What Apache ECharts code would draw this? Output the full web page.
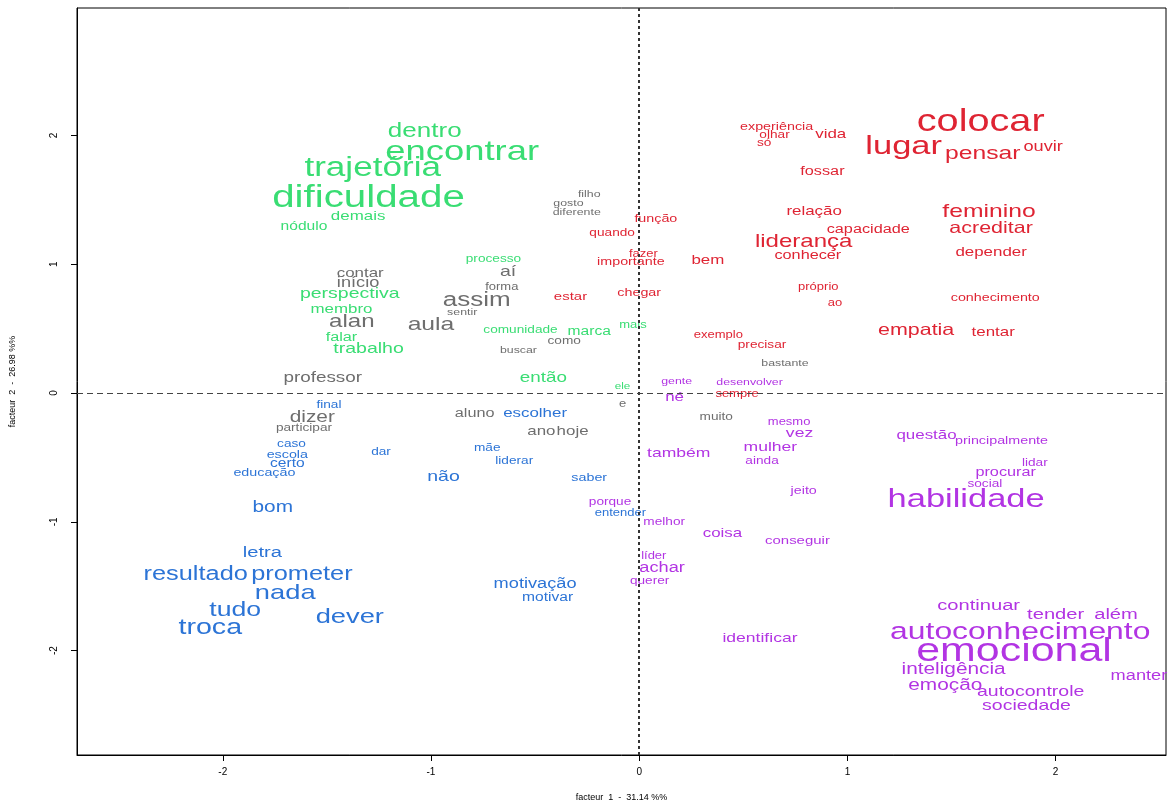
<!DOCTYPE html>
<html>
<head>
<meta charset="utf-8">
<script src="https://cdn.jsdelivr.net/npm/echarts@6/dist/echarts.min.js"></script>
<style>
  html, body { margin: 0; padding: 0; background: #fff; }
  #chart { width: 1168px; height: 807px; }
</style>
</head>
<body>
<div id="chart"></div>
<script>
// classe verde
var greenWords = ['dentro','encontrar','trajetória','dificuldade','demais','nódulo','processo','perspectiva','membro','falar','trabalho','comunidade','marca','mais','então','ele'];
var greenX = [-1.03,-0.85,-1.28,-1.30,-1.35,-1.61,-0.70,-1.39,-1.43,-1.43,-1.30,-0.57,-0.24,-0.03,-0.46,-0.08];
var greenY = [2.03,1.87,1.74,1.51,1.37,1.29,1.04,0.77,0.65,0.43,0.34,0.49,0.48,0.53,0.12,0.05];
var greenChi2 = [28,44,42,50,14,12,9,18,14,13,18,9,12,8,17,6];

// classe cinza
var grayWords = ['filho','gosto','diferente','contar','início','aí','forma','assim','sentir','alan','aula','como','buscar','professor','aluno','dizer','participar','ano','hoje','e','muito','bastante'];
var grayX = [-0.24,-0.34,-0.30,-1.34,-1.35,-0.63,-0.66,-0.78,-0.85,-1.38,-1.00,-0.36,-0.58,-1.52,-0.79,-1.57,-1.61,-0.47,-0.32,-0.08,0.37,0.70];
var grayY = [1.54,1.47,1.40,0.93,0.85,0.94,0.82,0.72,0.63,0.55,0.53,0.40,0.33,0.12,-0.16,-0.19,-0.27,-0.30,-0.30,-0.09,-0.19,0.23];
var grayChi2 = [7,7,7,14,16,18,8,28,7,25,26,9,7,17,13,20,9,14,14,8,9,7];

// classe vermelha
var redWords = ['experiência','olhar','só','vida','colocar','lugar','pensar','ouvir','fossar','relação','feminino','função','capacidade','acreditar','quando','liderança','conhecer','depender','fazer','importante','bem','próprio','ao','conhecimento','estar','chegar','empatia','tentar','exemplo','precisar','sempre'];
var redX = [0.66,0.65,0.60,0.92,1.64,1.27,1.65,1.94,0.88,0.84,1.68,0.08,1.10,1.69,-0.13,0.79,0.81,1.69,0.02,-0.04,0.33,0.86,0.94,1.71,-0.33,0.00,1.33,1.70,0.38,0.59,0.47];
var redY = [2.07,2.00,1.94,2.01,2.10,1.91,1.86,1.91,1.72,1.41,1.41,1.35,1.27,1.28,1.24,1.17,1.07,1.09,1.08,1.02,1.03,0.82,0.70,0.74,0.75,0.78,0.49,0.47,0.45,0.37,-0.01];
var redChi2 = [10,9,9,14,49,41,26,16,13,14,26,10,13,21,9,25,13,14,8,10,14,8,8,10,11,10,21,14,8,9,8];

// classe roxa
var purpleWords = ['gente','desenvolver','né','mesmo','vez','mulher','ainda','também','questão','principalmente','lidar','procurar','social','jeito','habilidade','porque','melhor','coisa','conseguir','líder','achar','querer','identificar','continuar','tender','além','autoconhecimento','emocional','inteligência','manter','emoção','autocontrole','sociedade'];
var purpleX = [0.18,0.53,0.17,0.72,0.77,0.63,0.59,0.19,1.38,1.74,1.90,1.76,1.66,0.79,1.57,-0.14,0.12,0.40,0.76,0.07,0.11,0.05,0.58,1.63,2.00,2.29,1.83,1.80,1.51,2.40,1.47,1.88,1.86];
var purpleY = [0.09,0.08,-0.03,-0.23,-0.31,-0.42,-0.53,-0.47,-0.33,-0.37,-0.54,-0.62,-0.71,-0.76,-0.83,-0.85,-1.00,-1.09,-1.15,-1.27,-1.36,-1.46,-1.90,-1.65,-1.72,-1.72,-1.86,-2.01,-2.15,-2.20,-2.27,-2.32,-2.43];
var purpleChi2 = [7,7,14,8,15,15,9,15,14,10,9,13,9,10,41,9,9,14,11,8,16,9,15,19,19,19,37,54,20,16,20,18,18];

// classe azul
var blueWords = ['final','caso','escola','certo','educação','dar','não','mãe','liderar','escolher','saber','entender','bom','letra','resultado','prometer','nada','tudo','dever','troca','motivação','motivar'];
var blueX = [-1.49,-1.67,-1.69,-1.69,-1.80,-1.24,-0.94,-0.73,-0.60,-0.50,-0.24,-0.09,-1.76,-1.81,-2.13,-1.62,-1.70,-1.94,-1.39,-2.06,-0.50,-0.44];
var blueY = [-0.09,-0.40,-0.48,-0.55,-0.62,-0.46,-0.65,-0.43,-0.53,-0.16,-0.66,-0.93,-0.89,-1.24,-1.41,-1.41,-1.55,-1.69,-1.74,-1.82,-1.48,-1.59];
var blueChi2 = [9,9,10,12,10,9,18,9,9,14,10,8,20,19,27,27,30,29,30,32,16,12];

var axisTicks = [-2, -1, 0, 1, 2];

var myChart = echarts.init(document.getElementById('chart'));

function wordSeries(words, xs, ys, chi2, color) {
    return {
        type: 'custom',
        coordinateSystem: 'cartesian2d',
        encode: { x: 0, y: 1 },
        data: xs.map(function (v, i) { return [v, ys[i], chi2[i]]; }),
        renderItem: function (params, api) {
            var p = api.coord([api.value(0), api.value(1)]);
            return {
                type: 'text',
                x: p[0],
                y: p[1],
                scaleX: 1.3,
                style: {
                    text: words[params.dataIndex],
                    fontSize: 6 + api.value(2) / 2,
                    fontFamily: 'Liberation Sans, Arial, sans-serif',
                    fill: color,
                    align: 'center',
                    verticalAlign: 'middle'
                }
            };
        }
    };
}

var series = [
    wordSeries(grayWords, grayX, grayY, grayChi2, '#6e6e6e'),
    wordSeries(greenWords, greenX, greenY, greenChi2, '#39dd73'),
    wordSeries(redWords, redX, redY, redChi2, '#df2433'),
    wordSeries(purpleWords, purpleX, purpleY, purpleChi2, '#b234e3'),
    wordSeries(blueWords, blueX, blueY, blueChi2, '#2c74d6')
];

series[0].markLine = {
    silent: true,
    symbol: ['none', 'none'],
    label: { show: false },
    data: [
        { xAxis: 0, lineStyle: { type: [3, 3], width: 2, color: '#333' } },
        { yAxis: 0, lineStyle: { type: [6, 4], width: 1.2, color: '#444' } }
    ]
};

option = {
    animation: false,
    backgroundColor: '#fff',
    grid: {
        left: 75, right: 2, top: 8, bottom: 52,
        show: true, borderColor: '#000', borderWidth: 1
    },
    xAxis: {
        type: 'value',
        min: -2.7,
        max: 2.53,
        name: 'facteur  1  -  31.14 %%',
        nameLocation: 'middle',
        nameGap: 38,
        nameTextStyle: { fontSize: 9, color: '#000', fontFamily: 'Liberation Sans' },
        axisLine: { onZero: false, lineStyle: { color: '#000' } },
        axisTick: { customValues: axisTicks, length: 6, lineStyle: { color: '#000' } },
        axisLabel: { customValues: axisTicks, fontSize: 10, color: '#000', margin: 12, fontFamily: 'Liberation Sans' },
        splitLine: { show: false }
    },
    yAxis: {
        type: 'value',
        min: -2.81,
        max: 2.99,
        name: 'facteur  2  -  26.98 %%',
        nameLocation: 'middle',
        nameRotate: 90,
        nameGap: 60,
        nameTextStyle: { fontSize: 9, color: '#000', fontFamily: 'Liberation Sans' },
        axisLine: { onZero: false, lineStyle: { color: '#000' } },
        axisTick: { customValues: axisTicks, length: 6, lineStyle: { color: '#000' } },
        axisLabel: { customValues: axisTicks, fontSize: 10, color: '#000', margin: 18, rotate: 90, fontFamily: 'Liberation Sans' },
        splitLine: { show: false }
    },
    series: series
};
myChart.setOption(option);
</script>
</body>
</html>
